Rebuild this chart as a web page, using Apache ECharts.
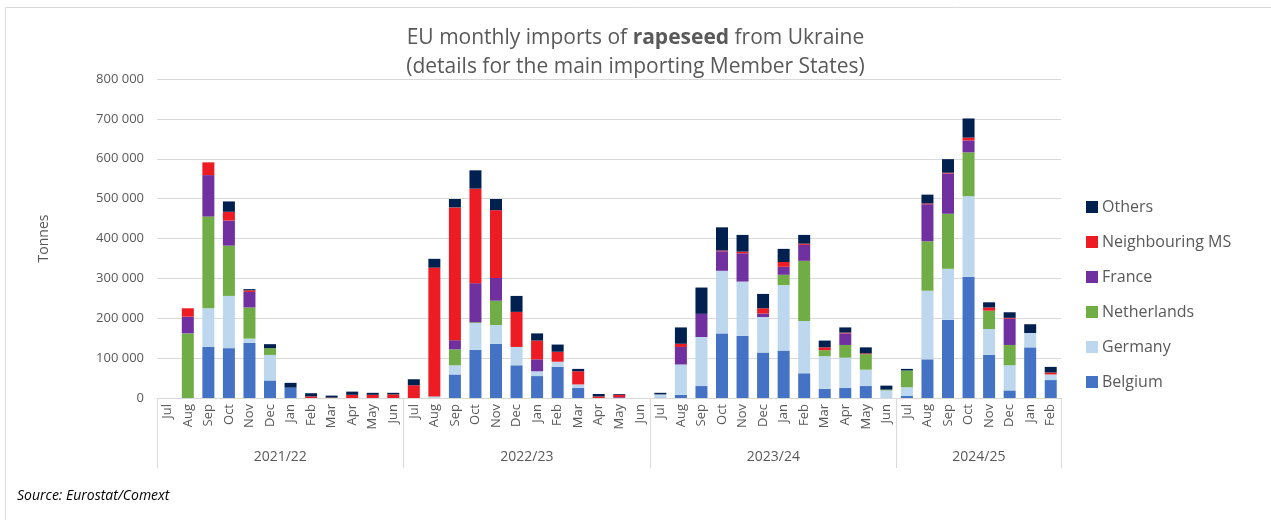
<!DOCTYPE html>
<html>
<head>
<meta charset="utf-8">
<script src="https://cdn.jsdelivr.net/npm/echarts@6.0.0/dist/echarts.min.js"></script>
<style>
  html, body { margin: 0; padding: 0; background: #fff; }
  #chart { width: 1271px; height: 520px; }
</style>
</head>
<body>
<div id="chart"></div>
<script>
// months, Jul 2021 .. Feb 2025
const months = [
  'Jul','Aug','Sep','Oct','Nov','Dec','Jan','Feb','Mar','Apr','May','Jun',
  'Jul','Aug','Sep','Oct','Nov','Dec','Jan','Feb','Mar','Apr','May','Jun',
  'Jul','Aug','Sep','Oct','Nov','Dec','Jan','Feb','Mar','Apr','May','Jun',
  'Jul','Aug','Sep','Oct','Nov','Dec','Jan','Feb'
];
const years = ['2021/22', '2022/23', '2023/24', '2024/25'];
const yearStarts = [0, 12, 24, 36, 44];   // category index where each year starts (+ end)
const yearMids = [6, 18, 30, 40];

// values in thousand tonnes
const belgium = [
  0, 0, 128, 125, 138, 44, 26, 0, 0, 0, 0, 0,
  0, 0, 59, 121, 136, 82, 55, 78, 25, 0, 0, 0,
  1, 8, 30, 162, 156, 114, 119, 62, 23, 25, 30, 0,
  5, 97, 196, 304, 108, 19, 127, 45
];
const germany = [
  0, 0, 97, 131, 11, 64, 0, 0, 0, 0, 0, 0,
  0, 4, 23, 67, 47, 46, 12, 13, 9, 0, 0, 0,
  8, 76, 123, 157, 136, 89, 164, 131, 82, 76, 41, 19,
  22, 172, 128, 202, 65, 63, 36, 14
];
const netherlands = [
  0, 162, 230, 126, 78, 17, 0, 0, 0, 0, 0, 0,
  0, 0, 40, 2, 61, 0, 0, 0, 0, 0, 0, 0,
  0, 0, 0, 0, 0, 0, 26, 151, 15, 32, 39, 2,
  42, 124, 138, 110, 46, 51, 0, 0
];
const france = [
  0, 42, 104, 63, 39, 0, 0, 0, 0, 0, 0, 0,
  0, 0, 23, 98, 57, 0, 30, 0, 0, 0, 2, 0,
  0, 44, 58, 49, 71, 9, 20, 40, 0, 29, 0, 0,
  0, 93, 101, 30, 0, 66, 0, 0
];
const neighbouring = [
  0, 21, 32, 22, 4, 0, 0, 4, 1, 8, 8, 9,
  32, 323, 333, 237, 170, 88, 47, 25, 33, 4, 6, 0,
  0, 8, 0, 2, 4, 13, 12, 3, 7, 2, 2, 0,
  0, 2, 2, 7, 8, 2, 0, 5
];
const others = [
  0, 0, 0, 26, 3, 10, 12, 8, 5, 8, 5, 4,
  15, 22, 21, 46, 28, 40, 18, 18, 6, 6, 2, 0,
  4, 41, 66, 58, 42, 36, 33, 22, 17, 13, 15, 10,
  4, 22, 34, 48, 13, 14, 22, 14
];

const font = '"Open Sans", Lato, sans-serif';
const grey = '#595959';

let chart = echarts.init(document.getElementById('chart'));

function bar(name, data, color) {
  return {
    name: name,
    type: 'bar',
    stack: 'total',
    data: data,
    barWidth: 12,
    itemStyle: { color: color },
    emphasis: { disabled: true }
  };
}

let option = {
  animation: false,
  textStyle: { fontFamily: font },
  title: {
    left: 'center',
    top: 19,
    text: 'EU monthly imports of {b|rapeseed} from Ukraine\n(details for the main importing Member States)',
    textStyle: {
      fontFamily: font,
      fontSize: 21,
      fontWeight: 'normal',
      color: grey,
      lineHeight: 29,
      rich: {
        b: { fontFamily: font, fontSize: 21, fontWeight: 'bold', color: grey, lineHeight: 29 }
      }
    }
  },
  legend: {
    orient: 'vertical',
    left: 1081,
    top: 192,
    itemWidth: 12,
    itemHeight: 12,
    itemGap: 15,
    icon: 'rect',
    data: ['Others', 'Neighbouring MS', 'France', 'Netherlands', 'Germany', 'Belgium'],
    textStyle: { fontFamily: font, fontSize: 16, color: grey, lineHeight: 20, padding: [0, 0, 0, -1] }
  },
  grid: { left: 157, right: 210, top: 79, bottom: 122 },
  xAxis: [
    {
      type: 'category',
      data: months,
      axisLine: { lineStyle: { color: '#d9d9d9', width: 1 } },
      axisTick: { show: false },
      axisLabel: { rotate: 90, interval: 0, fontSize: 13, color: grey, margin: 6, fontFamily: font }
    },
    {
      type: 'value',
      min: 0,
      max: 44,
      position: 'bottom',
      axisLine: { show: false },
      splitLine: { show: false },
      axisTick: {
        show: true,
        length: 70,
        customValues: yearStarts,
        lineStyle: { color: '#d9d9d9', width: 1 }
      },
      axisLabel: {
        customValues: yearMids,
        margin: 52,
        fontSize: 14,
        color: grey,
        fontFamily: font,
        formatter: (v) => years[yearMids.indexOf(v)] || ''
      }
    }
  ],
  yAxis: {
    type: 'value',
    min: 0,
    max: 800,
    interval: 100,
    name: 'Tonnes',
    nameLocation: 'middle',
    nameRotate: 90,
    nameGap: 106,
    nameTextStyle: { fontSize: 14, color: grey, fontFamily: font },
    axisLine: { show: false },
    axisTick: { show: false },
    splitLine: { lineStyle: { color: '#d9d9d9', width: 1 } },
    axisLabel: {
      fontSize: 13,
      color: grey,
      margin: 13,
      fontFamily: font,
      formatter: (v) => v === 0 ? '0' : v + ' 000'
    }
  },
  graphic: [
    {
      type: 'rect',
      shape: { x: 5.5, y: 7.5, width: 1400, height: 700 },
      style: { fill: 'none', stroke: '#d9d9d9', lineWidth: 1 },
      silent: true
    },
    {
      type: 'text',
      left: 17,
      top: 489,
      style: { text: 'Source: Eurostat/Comext', font: 'italic 14px ' + font, fill: '#000' }
    }
  ],
  series: [
    bar('Belgium', belgium, '#4472c4'),
    bar('Germany', germany, '#bdd7ee'),
    bar('Netherlands', netherlands, '#70ad47'),
    bar('France', france, '#7030a0'),
    bar('Neighbouring MS', neighbouring, '#ed1c24'),
    bar('Others', others, '#002050')
  ]
};

chart.setOption(option);
</script>
</body>
</html>
